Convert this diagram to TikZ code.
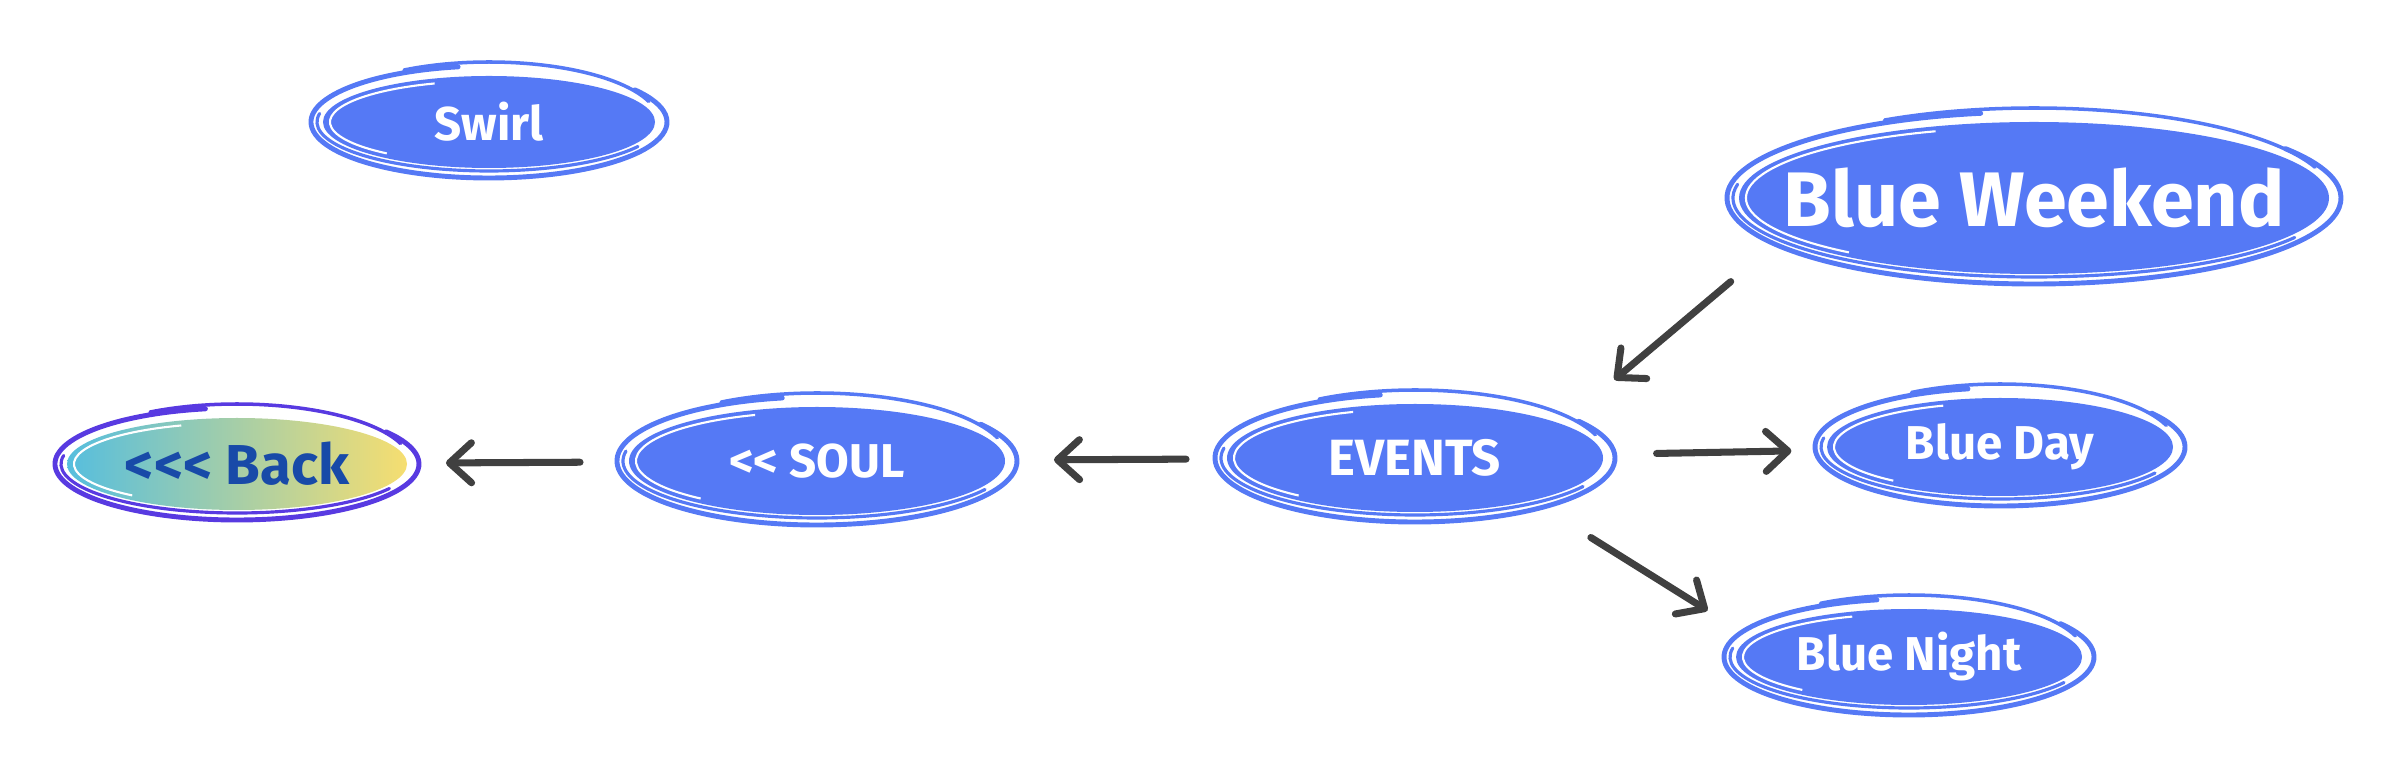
\documentclass[tikz,border=0pt]{standalone}
\usepackage{fontspec}
\setmainfont{Fira Sans}
\usetikzlibrary{shapes.geometric}
\usetikzlibrary{arrows.meta}
\usetikzlibrary{positioning}

\definecolor{bubbleblue}{RGB}{85,121,245}
\definecolor{arrowgrey}{RGB}{64,64,64}
\definecolor{backpurple}{RGB}{88,58,225}
\definecolor{backtext}{RGB}{24,74,168}
\definecolor{backcyan}{RGB}{86,190,222}
\definecolor{backyellow}{RGB}{246,222,112}

\tikzset{
  bubble/.style={ellipse, fill=bubbleblue, text=white, inner sep=0pt, outer sep=0pt,
    font=\bfseries\fontsize{13.5}{16}\selectfont},
  backbubble/.style={ellipse, left color=backcyan, right color=backyellow, text=backtext,
    inner sep=0pt, outer sep=0pt, font=\bfseries\fontsize{16}{19}\selectfont},
  link/.style={draw=arrowgrey, line width=2pt, line cap=round,
    -{Straight Barb[length=2.2mm,width=4mm,line width=2pt,line cap=round,line join=round]}},
}

% hand drawn rings round a bubble: node, x radius, y radius, colour
\newcommand{\scrawl}[4]{%
  \draw[#4, line width=1.4pt, line cap=round] ([shift={(100:{#2+0.12} and {#3+0.1})}]#1.center)
    arc [start angle=100, end angle=395, x radius=#2+0.12, y radius=#3+0.1];
  \draw[#4, line width=1pt, line cap=round] ([shift={(120:{#2+0.04} and {#3+0.14})}]#1.center)
    arc [start angle=120, end angle=20, x radius=#2+0.04, y radius=#3+0.14];
  \draw[#4, line width=0.9pt, line cap=round] ([shift={(170:{#2+0.06} and {#3+0.03})}]#1.center)
    arc [start angle=170, end angle=330, x radius=#2+0.06, y radius=#3+0.03];
  \draw[white, line width=0.6pt] ([shift={(110:{#2-0.07} and {#3-0.05})}]#1.center)
    arc [start angle=110, end angle=230, x radius=#2-0.07, y radius=#3-0.05];
}

\begin{document}
\begin{tikzpicture}
\useasboundingbox (0,0) rectangle (23.94,7.68);

% bubbles
\node[bubble, minimum width=3.32cm, minimum height=0.92cm] (swirl) at (4.89,6.46) {Swirl};
\node[bubble, minimum width=5.9cm, minimum height=1.52cm, inner xsep=-1.2cm, inner ysep=-0.2cm,
  font=\bfseries\fontsize{22}{26}\selectfont] (bweek) at (20.34,5.70) {Blue Weekend};
\node[backbubble, minimum width=3.4cm, minimum height=0.92cm] (back) at (2.37,3.04) {<{}<{}< Back};
\node[bubble, minimum width=3.76cm, minimum height=1.08cm] (soul) at (8.17,3.07) {<{}< SOUL};
\node[bubble, minimum width=3.76cm, minimum height=1.08cm, font=\bfseries\fontsize{14.5}{17}\selectfont] (events) at (14.15,3.10) {EVENTS};
\node[bubble, minimum width=3.46cm, minimum height=0.98cm] (bday) at (20.00,3.21) {Blue Day};
\node[bubble, minimum width=3.46cm, minimum height=0.96cm] (bnight) at (19.09,1.11) {Blue Night};

\scrawl{swirl}{1.66}{0.46}{bubbleblue}
\scrawl{bweek}{2.95}{0.76}{bubbleblue}
\scrawl{back}{1.70}{0.46}{backpurple}
\scrawl{soul}{1.88}{0.54}{bubbleblue}
\scrawl{events}{1.88}{0.54}{bubbleblue}
\scrawl{bday}{1.73}{0.49}{bubbleblue}
\scrawl{bnight}{1.73}{0.48}{bubbleblue}

% arrows
\draw[link, shorten <=0.68cm, shorten >=0.69cm] (bweek.189) -- (events.13);
\draw[link, shorten <=0.54cm, shorten >=0.36cm] (events) -- (bday);
\draw[link, shorten <=0.70cm, shorten >=0.51cm] (events.340) -- (bnight.173);
\draw[link, shorten <=0.41cm, shorten >=0.49cm] (events) -- (soul);
\draw[link, shorten <=0.49cm, shorten >=0.39cm] (soul) -- (back);

\end{tikzpicture}
\end{document}
